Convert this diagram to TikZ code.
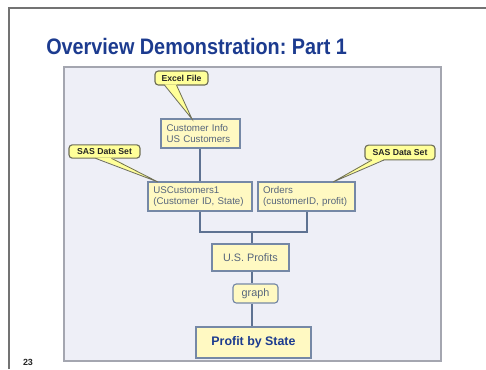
\documentclass[tikz,border=0pt]{standalone}
\usepackage{fontspec}
\setmainfont{Liberation Sans}
\usetikzlibrary{calc}
\frenchspacing
\definecolor{titleblue}{HTML}{1C3B8F}
\definecolor{panelfill}{HTML}{EEEFF7}
\definecolor{panelline}{HTML}{A4A6B0}
\definecolor{boxfill}{HTML}{FFF9C2}
\definecolor{boxline}{HTML}{7588A6}
\definecolor{boxtext}{HTML}{56657C}
\definecolor{callfill}{HTML}{FFFF99}
\definecolor{callline}{HTML}{6E6E58}
\definecolor{wire}{HTML}{5E7292}
\tikzset{
  databox/.style={draw=boxline, line width=0.85pt, fill=boxfill, text=boxtext,
    align=left, inner sep=0pt, font=\fontsize{7.3}{8.6}\selectfont},
  callbox/.style={draw=callline, line width=0.85pt, fill=callfill, rounded corners=2.5pt,
    inner sep=0pt, font=\bfseries\fontsize{6.5}{7.5}\selectfont, text=black!85},
  callptr/.style={fill=callfill},
  callptrline/.style={draw=callline, line width=0.6pt},
  wireline/.style={draw=wire, line width=0.85pt}
}
\begin{document}
\begin{tikzpicture}[x=0.75pt,y=-0.75pt]
\useasboundingbox (0,0) rectangle (486,369);
% slide frame
\draw[draw=black!55, line width=1pt] (9,369) -- (9,8) -- (486,8);
% title
\node[anchor=base west, inner sep=0pt, text=titleblue,
  font=\bfseries\fontsize{16.8}{20}\selectfont] (title) at (46,54)
  {\scalebox{0.885}[1]{Overview Demonstration: Part 1}};
% page number
\node[inner sep=0pt, font=\bfseries\fontsize{6.7}{8}\selectfont, text=black!85] (pagenum) at (28,362) {23};
% panel
\draw[fill=panelfill, draw=panelline, line width=0.9pt] (64,67) rectangle (441,361);

% boxes
\node[databox, minimum width=59.25pt, minimum height=21.75pt, text width=51pt] (cinfo) at (200.5,133.5) {Customer Info\\US Customers};
\node[databox, minimum width=78pt, minimum height=21.75pt, text width=70pt] (usc) at (200,196.5) {USCustomers1\\(Customer ID, State)};
\node[databox, minimum width=72.75pt, minimum height=21.75pt, text width=65pt] (orders) at (306.5,196.5) {Orders\\(customerID, profit)};
\node[databox, align=center, minimum width=57.75pt, minimum height=20.25pt, font=\fontsize{8.1}{9}\selectfont] (usp) at (250.5,257.5) {U.S. Profits};
\node[databox, align=center, rounded corners=2.5pt, minimum width=33.75pt, minimum height=14.25pt, font=\fontsize{8.1}{9}\selectfont] (graph) at (255.5,293.5) {graph};
\node[databox, align=center, text=titleblue, minimum width=86.25pt, minimum height=23.25pt, font=\bfseries\fontsize{9.3}{11}\selectfont] (pbs) at (253.5,342.5) {Profit by State};

% connectors
\coordinate (junc) at (252,232);
\draw[wireline] (cinfo.south -| 200,0) -- (usc.north -| 200,0);
\draw[wireline] (usc.south -| 200,0) |- (junc);
\draw[wireline] (orders.south -| 307,0) |- (junc);
\draw[wireline] (junc) -- (usp.north -| junc);
\draw[wireline] (usp.south -| junc) -- (graph.north -| junc);
\draw[wireline] (graph.south -| junc) -- (pbs.north -| junc);

% callouts
\node[callbox, minimum width=39.75pt, minimum height=10.5pt] (excel) at (181.5,78) {Excel File};
\node[callbox, minimum width=53.25pt, minimum height=10pt] (sasl) at (104.5,151.5) {SAS Data Set};
\node[callbox, minimum width=52.5pt, minimum height=11pt] (sasr) at (400,152.5) {SAS Data Set};

\coordinate (tipE) at (192,119);
\coordinate (tipL) at (158,182);
\coordinate (tipR) at (333,182);
% excel pointer
\fill[callptr] ($(excel.south)+(-17,-1.2)$) -- (tipE) -- ($(excel.south)+(-5,-1.2)$) -- cycle;
\draw[callptrline] ($(excel.south)+(-17,-0.4)$) -- (tipE) -- ($(excel.south)+(-5,-0.4)$);
% left SAS pointer
\fill[callptr] ($(sasl.south)+(-9,-1.2)$) -- (tipL) -- ($(sasl.south)+(7,-1.2)$) -- cycle;
\draw[callptrline] ($(sasl.south)+(-9,-0.4)$) -- (tipL) -- ($(sasl.south)+(7,-0.4)$);
% right SAS pointer
\fill[callptr] ($(sasr.south)+(-28,-1.2)$) -- (tipR) -- ($(sasr.south)+(-16,-1.2)$) -- cycle;
\draw[callptrline] ($(sasr.south)+(-28,-0.4)$) -- (tipR) -- ($(sasr.south)+(-16,-0.4)$);
\end{tikzpicture}
\end{document}
